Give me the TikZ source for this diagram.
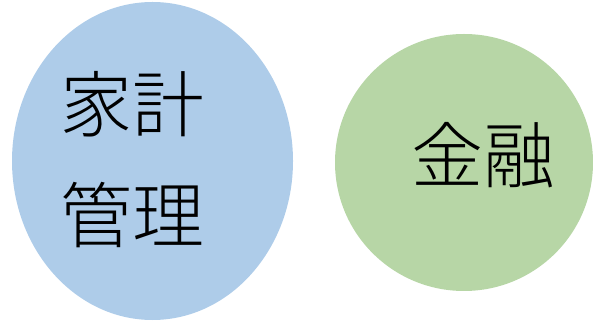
\documentclass[tikz,border=0pt]{standalone}
\usepackage{fontspec}
\newfontfamily\cjk{Noto Sans CJK JP Light}
\definecolor{blueell}{RGB}{174,204,233}
\definecolor{greenell}{RGB}{183,214,166}
\begin{document}
\begin{tikzpicture}[x=1pt,y=1pt,
  lbl/.style={font=\cjk\fontsize{72}{72}\selectfont, inner sep=0pt, text=black}]
\useasboundingbox (0,0) rectangle (593,326);
\fill[blueell] (152.5,165) ellipse [x radius=140.5, y radius=159];
\fill[greenell] (464,163.5) ellipse [x radius=129, y radius=128.5];
\node[lbl] (kakei) at (132.5,222) {家計};
\node[lbl] (kanri) at (132.5,111) {管理};
\node[lbl] (kinyu) at (483,171) {金融};
\end{tikzpicture}
\end{document}
